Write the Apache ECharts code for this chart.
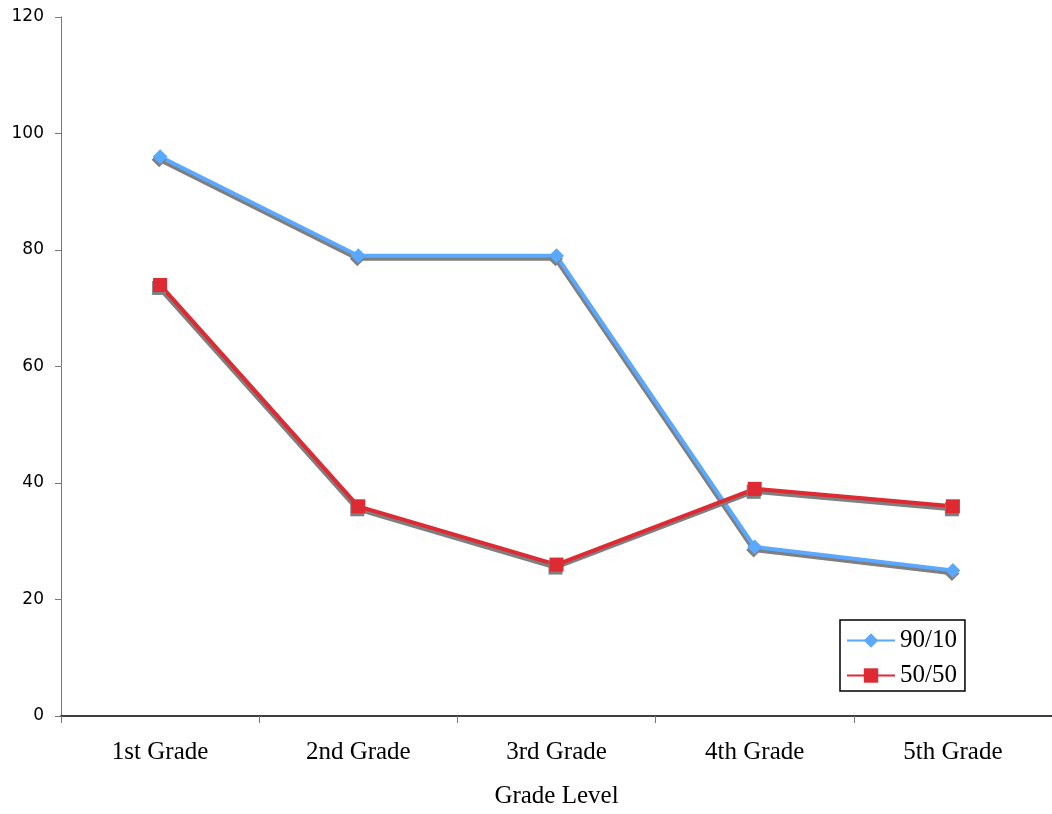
<!DOCTYPE html>
<html><head><meta charset="utf-8">
<script src="https://cdn.jsdelivr.net/npm/echarts@6/dist/echarts.min.js"></script>
<style>html,body{margin:0;padding:0;background:#fff}#c{width:1052px;height:814px}</style>
</head><body><div id="c"></div>
<script>
const categories = ['1st Grade','2nd Grade','3rd Grade','4th Grade','5th Grade'];
const series9010 = [96, 79, 79, 29, 25];
const series5050 = [74, 36, 26, 39, 36];
const yTicks = [0, 20, 40, 60, 80, 100, 120];

const chart = echarts.init(document.getElementById('c'));
const shadow = {shadowColor:'#7f7f7f', shadowBlur:0, shadowOffsetX:-1, shadowOffsetY:3};
chart.setOption({
  animation:false,
  grid:{left:61, top:17, right:0, bottom:95, containLabel:false},
  xAxis:{
    type:'category', data:categories, boundaryGap:true,
    name:'Grade Level', nameLocation:'middle', nameGap:68,
    nameTextStyle:{fontFamily:'Liberation Serif', fontSize:25, color:'#000'},
    axisLine:{lineStyle:{color:'#000', width:1.5}},
    axisTick:{show:true, length:7, lineStyle:{color:'#777'}},
    axisLabel:{fontFamily:'Liberation Serif', fontSize:25, color:'#000', margin:24}
  },
  yAxis:{
    type:'value', min:yTicks[0], max:yTicks[yTicks.length-1], interval:20,
    axisLine:{show:true, lineStyle:{color:'#777', width:1}},
    axisTick:{show:true, length:6, lineStyle:{color:'#777'}},
    axisLabel:{fontFamily:'DejaVu Sans', fontSize:17, color:'#000', margin:17},
    splitLine:{show:false}
  },
  legend:{
    orient:'vertical', left:840, top:620,
    itemWidth:48, itemHeight:18, itemGap:10,
    padding:[8,8,3,6],
    borderColor:'#000', borderWidth:1.5, backgroundColor:'#fff',
    textStyle:{fontFamily:'Liberation Serif', fontSize:25, color:'#000'},
    data:['90/10','50/50']
  },
  series:[
    {name:'90/10', type:'line', data:series9010, symbol:'diamond', symbolSize:15,
     color:'#5aa8ff',
     lineStyle:Object.assign({width:4, color:'#5aa8ff'}, shadow),
     itemStyle:Object.assign({color:'#5aa8ff'}, shadow)},
    {name:'50/50', type:'line', data:series5050, symbol:'rect', symbolSize:14,
     color:'#dd2a33',
     lineStyle:Object.assign({width:4, color:'#dd2a33'}, shadow),
     itemStyle:Object.assign({color:'#dd2a33'}, shadow)}
  ]
});
</script></body></html>
